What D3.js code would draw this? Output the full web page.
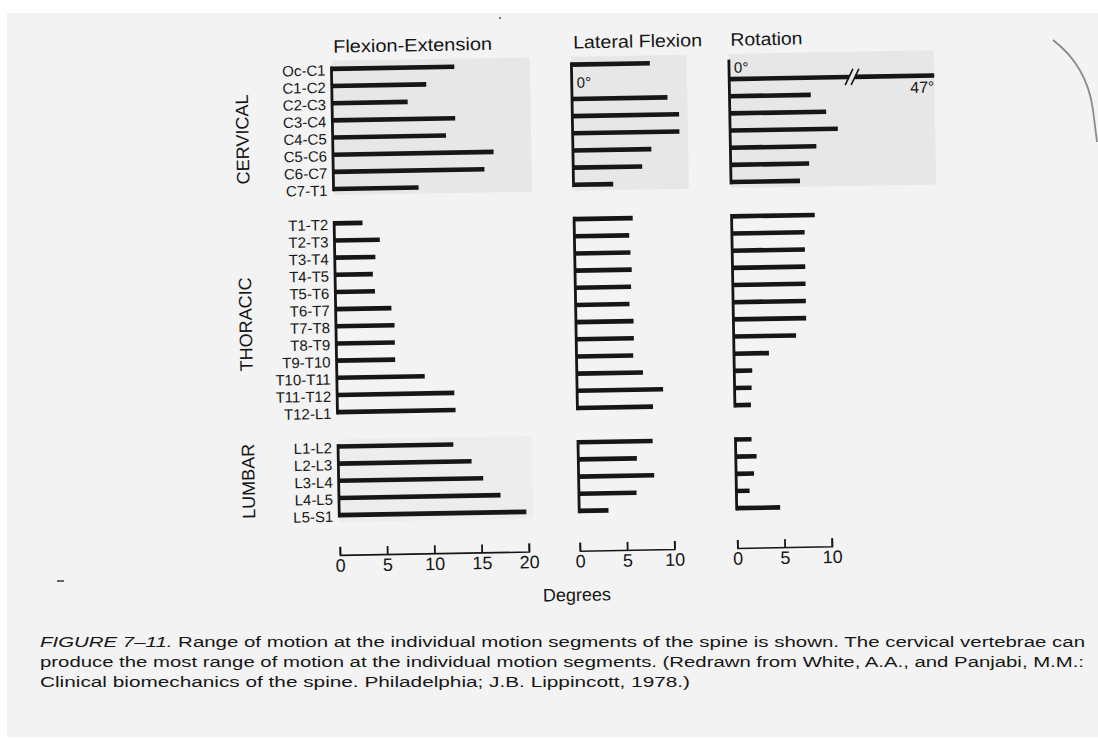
<!DOCTYPE html>
<html>
<head>
<meta charset="utf-8">
<script src="https://cdn.jsdelivr.net/npm/d3@7"></script>
<style>
  body { margin: 0; background: #fff; }
  svg { display: block; font-family: "Liberation Sans", Arial, sans-serif; }
</style>
</head>
<body>
<div id="chart"></div>
<script>
// spinal motion segments, top to bottom
var cervical = ["Oc-C1", "C1-C2", "C2-C3", "C3-C4", "C4-C5", "C5-C6", "C6-C7", "C7-T1"];
var thoracic = ["T1-T2", "T2-T3", "T3-T4", "T4-T5", "T5-T6", "T6-T7", "T7-T8", "T8-T9", "T9-T10", "T10-T11", "T11-T12", "T12-L1"];
var lumbar = ["L1-L2", "L2-L3", "L3-L4", "L4-L5", "L5-S1"];
var groupNames = ["CERVICAL", "THORACIC", "LUMBAR"];

// degrees, same order as the segments above
var flexionExtension = [13, 10, 8, 13, 12, 17, 16, 9,
  3, 4.8, 4.3, 4, 4.2, 5.9, 6.2, 6.2, 6.2, 9.3, 12.4, 12.5,
  12.2, 14.1, 15.3, 17.1, 19.8];
var lateralFlexion = [8.3, 0, 10.1, 11.3, 11.3, 8.3, 7.3, 4.2,
  6.2, 5.8, 5.9, 6, 5.9, 5.7, 6.1, 6.1, 6, 7, 9.1, 8,
  7.9, 6.2, 8, 6.1, 3.1];
var rotation = [0, 47, 8.6, 10.2, 11.4, 9.1, 8.3, 7.3,
  8.8, 7.7, 7.7, 7.7, 7.7, 7.7, 7.7, 6.6, 3.7, 1.9, 1.8, 1.7,
  1.7, 2.2, 1.9, 1.4, 4.6];

var panelTitles = ["Flexion-Extension", "Lateral Flexion", "Rotation"];
var flexTicks = [0, 5, 10, 15, 20];
var smallTicks = [0, 5, 10];
var axisTitle = "Degrees";

var captionLines = [
  "Range of motion at the individual motion segments of the spine is shown. The cervical vertebrae can",
  "produce the most range of motion at the individual motion segments. (Redrawn from White, A.A., and Panjabi, M.M.:",
  "Clinical biomechanics of the spine. Philadelphia; J.B. Lippincott, 1978.)"
];
var figureLabel = "FIGURE 7\u201311.";

var width = 1098, height = 738;
var ink = "#161616";
var pxPerDeg = 9.45;

var svg = d3.select("#chart")
  .append("svg")
    .attr("width", width)
    .attr("height", height);

// white scanner bed + paper
svg.append("rect").attr("width", width).attr("height", height).attr("fill", "#fff");
svg.append("rect")
  .attr("x", 7).attr("y", 13)
  .attr("width", width - 7).attr("height", height - 14)
  .attr("fill", "#f2f3f2");

// scan artefacts
svg.append("path")
  .attr("d", "M1053,40 C1074,56 1089,80 1093,110 L1097,142")
  .attr("fill", "none").attr("stroke", "#8a8a8a").attr("stroke-width", 1.8);
svg.append("line").attr("x1", 57).attr("x2", 64).attr("y1", 581).attr("y2", 581)
  .attr("stroke", "#333").attr("stroke-width", 1.5);
svg.append("circle").attr("cx", 500).attr("cy", 18).attr("r", 1).attr("fill", "#555");

// the page was scanned a little crooked
var g = svg.append("g").attr("transform", "rotate(-1, 400, 300)");

var segments = cervical.concat(thoracic, lumbar);
var rowDomain = cervical.concat(["gap1"], thoracic, ["gap2"], lumbar);
var y = d3.scalePoint().domain(rowDomain).range([67.7, 514]);

var groups = [
  {name: groupNames[0], rows: cervical, labelShift: 9},
  {name: groupNames[1], rows: thoracic, labelShift: 5},
  {name: groupNames[2], rows: lumbar, labelShift: -1}
];

var panels = [
  {title: panelTitles[0], titleW: 159, x0: 335.5, max: 20, ticks: flexTicks, values: flexionExtension,
   shadeCervical: 21, shadeLumbar: 20.5, zeroDy: 6},
  {title: panelTitles[1], titleW: 129, x0: 575.5, max: 10, ticks: smallTicks, values: lateralFlexion,
   shadeCervical: 12.2, shadeLumbar: 0, zeroDy: 6},
  {title: panelTitles[2], titleW: 72, x0: 733, max: 10, ticks: smallTicks, values: rotation,
   shadeCervical: 21.7, shadeLumbar: 0, zeroDy: 11, breakAt: 13, breakEnd: 21.7}
];

panels.forEach(function(p) {
  p.x = d3.scaleLinear()
    .domain([0, p.max])
    .range([p.x0, p.x0 + p.max * pxPerDeg]);
});

var barH = 4.6;

panels.forEach(function(p) {
  var pg = g.append("g");

  // grey screen behind cervical (and lumbar) block
  pg.append("rect")
    .attr("x", p.x(0))
    .attr("y", y(cervical[0]) - 8)
    .attr("width", p.x(p.shadeCervical) - p.x(0))
    .attr("height", y(cervical[cervical.length - 1]) - y(cervical[0]) + 14)
    .attr("fill", "#e6e7e6");
  if (p.shadeLumbar > 0) {
    pg.append("rect")
      .attr("x", p.x(0))
      .attr("y", y(lumbar[0]) - 7)
      .attr("width", p.x(p.shadeLumbar) - p.x(0))
      .attr("height", y(lumbar[lumbar.length - 1]) - y(lumbar[0]) + 14)
      .attr("fill", "#ecedec");
  }

  // title
  pg.append("text")
    .attr("x", p.x(0) + 2)
    .attr("y", 51.5)
    .attr("textLength", p.titleW)
    .attr("lengthAdjust", "spacingAndGlyphs")
    .style("font-size", "18px")
    .attr("fill", ink)
    .text(p.title);

  // vertical spine of each group
  groups.forEach(function(gr) {
    pg.append("line")
      .attr("x1", p.x(0)).attr("x2", p.x(0))
      .attr("y1", y(gr.rows[0]) - barH / 2)
      .attr("y2", y(gr.rows[gr.rows.length - 1]) + barH / 2)
      .attr("stroke", ink)
      .attr("stroke-width", 2.8);
  });

  // bars
  segments.forEach(function(s, i) {
    var v = p.values[i];
    if (v === 0) {
      pg.append("text")
        .attr("x", p.x(0) + 5)
        .attr("y", y(s) + p.zeroDy)
        .style("font-size", "15px")
        .attr("fill", ink)
        .text("0\u00b0");
      return;
    }
    if (p.breakAt && v > p.max * 2) {
      // too long to draw: broken bar with its value at the end
      var gap = 3;
      pg.append("rect")
        .attr("x", p.x(0)).attr("y", y(s) - barH / 2)
        .attr("width", p.x(p.breakAt) - gap - p.x(0)).attr("height", barH)
        .attr("fill", ink);
      pg.append("rect")
        .attr("x", p.x(p.breakAt) + gap).attr("y", y(s) - barH / 2)
        .attr("width", p.x(p.breakEnd) - p.x(p.breakAt) - gap).attr("height", barH)
        .attr("fill", ink);
      [-gap, gap].forEach(function(o) {
        pg.append("line")
          .attr("x1", p.x(p.breakAt) + o - 4).attr("y1", y(s) + 8)
          .attr("x2", p.x(p.breakAt) + o + 4).attr("y2", y(s) - 8)
          .attr("stroke", ink).attr("stroke-width", 1.6);
      });
      pg.append("text")
        .attr("x", p.x(p.breakEnd))
        .attr("y", y(s) + 17)
        .attr("text-anchor", "end")
        .style("font-size", "16px")
        .attr("fill", ink)
        .text(v + "\u00b0");
      return;
    }
    pg.append("rect")
      .attr("x", p.x(0))
      .attr("y", y(s) - barH / 2)
      .attr("width", p.x(v) - p.x(0))
      .attr("height", barH)
      .attr("fill", ink);
  });

  // axis with upturned ticks
  var ax = pg.append("g")
    .attr("transform", "translate(0,553.8)")
    .call(d3.axisBottom(p.x).tickValues(p.ticks)
      .tickSizeInner(-8).tickSizeOuter(-8).tickPadding(4));
  ax.attr("font-family", null).attr("font-size", null);
  ax.select(".domain").attr("stroke", ink).attr("stroke-width", 1.6);
  ax.selectAll(".tick line").attr("stroke", ink).attr("stroke-width", 1.8);
  ax.selectAll(".tick text").style("font-size", "18px").attr("fill", ink);
});

// segment labels
g.append("g").selectAll("text")
  .data(segments)
  .enter()
  .append("text")
    .attr("x", panels[0].x(0) - 6)
    .attr("y", function(d) { return y(d) + 1.5; })
    .attr("dy", "0.35em")
    .attr("text-anchor", "end")
    .style("font-size", "15px")
    .attr("fill", ink)
    .text(function(d) { return d; });

// group labels
groups.forEach(function(gr) {
  var cy = (y(gr.rows[0]) + y(gr.rows[gr.rows.length - 1])) / 2 + gr.labelShift;
  g.append("text")
    .attr("transform", "translate(245," + cy + ") rotate(-90)")
    .attr("text-anchor", "middle")
    .attr("dy", "0.36em")
    .style("font-size", "18px")
    .attr("fill", ink)
    .text(gr.name);
});

g.append("text")
  .attr("x", 571.7)
  .attr("y", 604)
  .attr("text-anchor", "middle")
  .style("font-size", "18px")
  .attr("fill", ink)
  .text(axisTitle);

// caption (kept level)
var capLengths = [1045, 1044, 650];
captionLines.forEach(function(line, i) {
  var t = svg.append("text")
    .attr("x", 40)
    .attr("y", 647 + i * 20)
    .attr("textLength", capLengths[i])
    .attr("lengthAdjust", "spacingAndGlyphs")
    .style("font-size", "15.5px")
    .attr("fill", ink);
  if (i === 0) {
    t.append("tspan").style("font-style", "italic").text(figureLabel + " ");
  }
  t.append("tspan").text(line);
});
</script>
</body>
</html>
